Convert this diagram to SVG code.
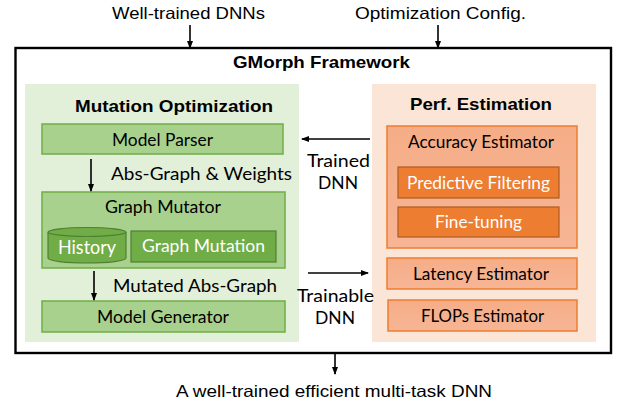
<svg xmlns="http://www.w3.org/2000/svg" width="618" height="406" viewBox="0 0 618 406">
<defs>
<marker id="ah" markerWidth="8" markerHeight="8" refX="7" refY="4" orient="auto" markerUnits="userSpaceOnUse">
<path d="M0,1 L8,4 L0,7 Z" fill="#000"/>
</marker>
<linearGradient id="og" x1="0" y1="0" x2="0" y2="1">
<stop offset="0" stop-color="#f5ad87"/>
<stop offset="1" stop-color="#f7b595"/>
</linearGradient>
</defs>
<style>
.ar{font-family:"Liberation Sans",Arial,sans-serif;fill:#000}
.lb{font-family:Lato,"Noto Sans",sans-serif;fill:#000}
.wh{font-family:Lato,"Noto Sans",sans-serif;fill:#fff}
.gbox{fill:#a9d18e;stroke:#70ad47;stroke-width:1.5}
.dg{fill:#70ad47;stroke:#507e32;stroke-width:1.2}
.do{fill:#ed7d31;stroke:#ae5a21;stroke-width:1.2}
.ob{fill:url(#og);stroke:#ed7d31;stroke-width:1.5}
.cn{stroke:#000;stroke-width:1.6;fill:none}
</style>
<rect width="618" height="406" fill="#fff"/>
<text class="ar" x="112" y="19" font-size="16.5" textLength="153" lengthAdjust="spacingAndGlyphs">Well-trained DNNs</text>
<text class="ar" x="355" y="19" font-size="16.5" textLength="171" lengthAdjust="spacingAndGlyphs">Optimization Config.</text>
<g id="framework">
<rect x="15.5" y="48" width="595.5" height="305" fill="#fff" stroke="#000" stroke-width="2.4"/>
<text class="ar" x="233" y="68" font-size="16.5" font-weight="bold" textLength="177" lengthAdjust="spacingAndGlyphs">GMorph Framework</text>
</g>
<g id="mutation-optimization">
<rect x="25" y="84" width="274" height="258" fill="#e2efd9"/>
<text class="ar" x="75" y="112" font-size="17" font-weight="bold" textLength="198" lengthAdjust="spacingAndGlyphs">Mutation Optimization</text>
</g>
<g id="model-parser">
<rect class="gbox" x="42" y="124" width="241" height="30"/>
<text class="lb" x="112" y="146" font-size="17" textLength="101" lengthAdjust="spacingAndGlyphs">Model Parser</text>
</g>
<g id="graph-mutator">
<rect class="gbox" x="42" y="192" width="243" height="76"/>
<text class="lb" x="105" y="213" font-size="17" textLength="116" lengthAdjust="spacingAndGlyphs">Graph Mutator</text>
</g>
<g id="history">
<path class="dg" d="M48,232 L48,258 A39,5 0 0 0 126,258 L126,232"/>
<ellipse class="dg" cx="87" cy="232" rx="39" ry="4.5" fill="#a9d18e"/>
<text class="wh" x="58" y="254" font-size="19" textLength="58" lengthAdjust="spacingAndGlyphs">History</text>
</g>
<g id="graph-mutation">
<rect class="dg" x="131" y="231" width="145" height="31"/>
<text class="wh" x="142" y="252" font-size="17" textLength="123" lengthAdjust="spacingAndGlyphs">Graph Mutation</text>
</g>
<g id="model-generator">
<rect class="gbox" x="42" y="301" width="243" height="31"/>
<text class="lb" x="97" y="323" font-size="17" textLength="132" lengthAdjust="spacingAndGlyphs">Model Generator</text>
</g>
<g id="perf-estimation">
<rect x="372" y="84" width="224" height="258" fill="#fbe5d6"/>
<text class="ar" x="410" y="110" font-size="17" font-weight="bold" textLength="142" lengthAdjust="spacingAndGlyphs">Perf. Estimation</text>
</g>
<g id="accuracy-estimator">
<rect class="ob" x="387" y="126" width="190" height="122"/>
<text class="lb" x="408" y="148" font-size="17" textLength="146" lengthAdjust="spacingAndGlyphs">Accuracy Estimator</text>
</g>
<g id="predictive-filtering">
<rect class="do" x="398" y="167" width="161" height="31"/>
<text class="wh" x="407" y="189" font-size="17" textLength="143" lengthAdjust="spacingAndGlyphs">Predictive Filtering</text>
</g>
<g id="fine-tuning">
<rect class="do" x="398" y="207" width="161" height="30"/>
<text class="wh" x="435" y="228" font-size="17" textLength="87" lengthAdjust="spacingAndGlyphs">Fine-tuning</text>
</g>
<g id="latency-estimator">
<rect class="ob" x="387" y="258" width="190" height="31"/>
<text class="lb" x="413" y="280" font-size="17" textLength="136" lengthAdjust="spacingAndGlyphs">Latency Estimator</text>
</g>
<g id="flops-estimator">
<rect class="ob" x="388" y="300" width="189" height="31"/>
<text class="lb" x="421" y="322" font-size="17" textLength="123" lengthAdjust="spacingAndGlyphs">FLOPs Estimator</text>
</g>
<g id="connectors">
<line class="cn" x1="190" y1="25" x2="190" y2="48" marker-end="url(#ah)"/>
<line class="cn" x1="438" y1="25" x2="438" y2="48" marker-end="url(#ah)"/>
<line class="cn" x1="91" y1="159" x2="91" y2="191" marker-end="url(#ah)"/>
<line class="cn" x1="94" y1="271" x2="94" y2="300" marker-end="url(#ah)"/>
<line class="cn" x1="370" y1="139" x2="302" y2="139" marker-end="url(#ah)"/>
<line class="cn" x1="308" y1="273" x2="368" y2="273" marker-end="url(#ah)"/>
<line class="cn" x1="335" y1="353" x2="335" y2="374" marker-end="url(#ah)"/>
<text class="lb" x="111" y="180" font-size="18" textLength="181" lengthAdjust="spacingAndGlyphs">Abs-Graph &amp; Weights</text>
<text class="lb" x="113" y="292" font-size="18" textLength="164" lengthAdjust="spacingAndGlyphs">Mutated Abs-Graph</text>
<text class="lb" x="307" y="167" font-size="18" textLength="63" lengthAdjust="spacingAndGlyphs">Trained</text>
<text class="lb" x="318" y="189" font-size="18" textLength="40" lengthAdjust="spacingAndGlyphs">DNN</text>
<text class="lb" x="297" y="302" font-size="18" textLength="77" lengthAdjust="spacingAndGlyphs">Trainable</text>
<text class="lb" x="315" y="324" font-size="18" textLength="40" lengthAdjust="spacingAndGlyphs">DNN</text>
</g>
<text class="ar" x="176" y="397" font-size="16.5" textLength="316" lengthAdjust="spacingAndGlyphs">A well-trained efficient multi-task DNN</text>
</svg>
